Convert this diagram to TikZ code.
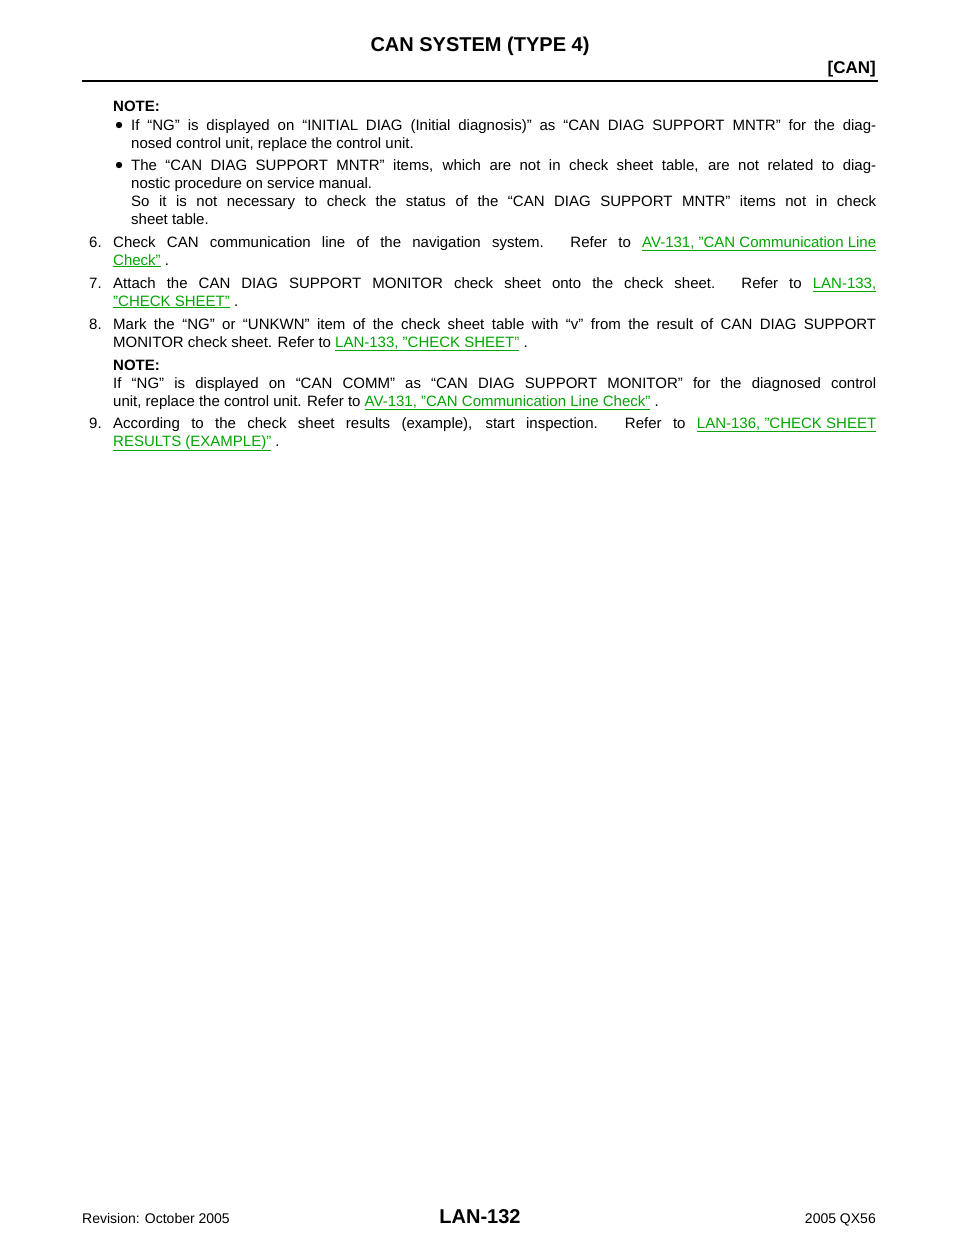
\documentclass[tikz,border=0pt]{standalone}
\usepackage{fontspec}
\setmainfont{Liberation Sans}
\definecolor{lg}{RGB}{0,165,0}
\newcommand\lnk[1]{\textcolor{lg}{\underline{#1}}}
\newcommand\jl[1]{\hbox to 745pt{#1}}
\newcommand\jm[1]{\hbox to 763pt{#1}}
\begin{document}
\begin{tikzpicture}[x=1pt,y=1pt,
  t/.style={anchor=base west,inner sep=0pt,font=\fontsize{15}{18}\selectfont},
  b/.style={t,font=\fontsize{15}{18}\selectfont\bfseries}]
\useasboundingbox (0,0) rectangle (960,-1242);
\node[anchor=base,inner sep=0pt,font=\fontsize{20}{24}\selectfont\bfseries] (title) at (480,-51) {CAN SYSTEM (TYPE 4)};
\node[anchor=base east,inner sep=0pt,font=\fontsize{17}{20}\selectfont\bfseries] (sec) at (876,-73) {[CAN]};
\draw[line width=2.5pt] (82,-81) -- (878,-81);
\node[b] (n1) at (113,-111) {NOTE:};
\fill (119,-125) circle (3.2);
\node[t] (a1) at (131,-130) {\jl{If “NG” is displayed on “INITIAL DIAG (Initial diagnosis)” as “CAN DIAG SUPPORT MNTR” for the diag-}};
\node[t] (a2) at (131,-148) {nosed control unit, replace the control unit.};
\fill (119,-165) circle (3.2);
\node[t] (b1) at (131,-170) {\jl{The “CAN DIAG SUPPORT MNTR” items, which are not in check sheet table, are not related to diag-}};
\node[t] (b2) at (131,-188) {nostic procedure on service manual.};
\node[t] (b3) at (131,-206) {\jl{So it is not necessary to check the status of the “CAN DIAG SUPPORT MNTR” items not in check}};
\node[t] (b4) at (131,-224) {sheet table.};
\node[t] (s6) at (89,-247) {6.};
\node[t] (s6a) at (113,-247) {\jm{Check CAN communication line of the navigation system. Refer to \lnk{AV-131, "CAN Communication Line}}};
\node[t] (s6b) at (113,-265) {\lnk{Check"} .};
\node[t] (s7) at (89,-288) {7.};
\node[t] (s7a) at (113,-288) {\jm{Attach the CAN DIAG SUPPORT MONITOR check sheet onto the check sheet. Refer to \lnk{LAN-133,}}};
\node[t] (s7b) at (113,-306) {\lnk{"CHECK SHEET"} .};
\node[t] (s8) at (89,-329) {8.};
\node[t] (s8a) at (113,-329) {\jm{Mark the “NG” or “UNKWN” item of the check sheet table with “v” from the result of CAN DIAG SUPPORT}};
\node[t] (s8b) at (113,-347) {MONITOR check sheet. Refer to \lnk{LAN-133, "CHECK SHEET"} .};
\node[b] (n2) at (113,-370) {NOTE:};
\node[t] (c1) at (113,-388) {\jm{If “NG” is displayed on “CAN COMM” as “CAN DIAG SUPPORT MONITOR” for the diagnosed control}};
\node[t] (c2) at (113,-406) {unit, replace the control unit. Refer to \lnk{AV-131, "CAN Communication Line Check"} .};
\node[t] (s9) at (89,-428) {9.};
\node[t] (s9a) at (113,-428) {\jm{According to the check sheet results (example), start inspection. Refer to \lnk{LAN-136, "CHECK SHEET}}};
\node[t] (s9b) at (113,-446) {\lnk{RESULTS (EXAMPLE)"} .};
\node[anchor=base west,inner sep=0pt,font=\fontsize{14}{16}\selectfont] (rev) at (82,-1223) {Revision: October 2005};
\node[anchor=base,inner sep=0pt,font=\fontsize{20}{24}\selectfont\bfseries] (pg) at (480,-1223) {LAN-132};
\node[anchor=base east,inner sep=0pt,font=\fontsize{14}{16}\selectfont] (mod) at (876,-1223) {2005 QX56};
\end{tikzpicture}
\end{document}
